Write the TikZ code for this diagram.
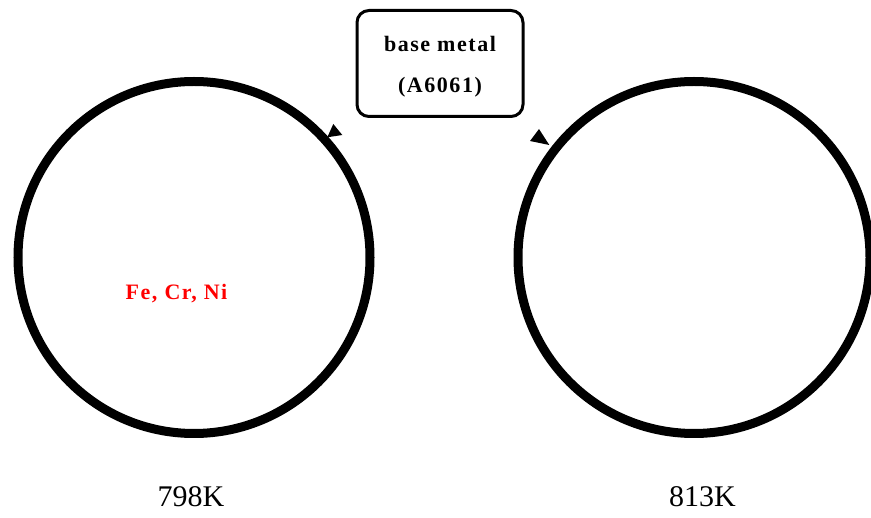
\documentclass[tikz,border=0pt]{standalone}
\usepackage{fontspec}
\setmainfont{Liberation Serif}
\newfontfamily\trackedbold[LetterSpace=7]{Liberation Serif Bold}
\begin{document}
\begin{tikzpicture}[x=1pt,y=-1pt,
  ring/.style={circle,draw,line width=9pt,minimum size=352pt,inner sep=0pt},
  tag/.style={draw,line width=3pt,rounded corners=12pt,minimum width=166pt,minimum height=106pt,inner sep=0pt},
  boldlabel/.style={font=\trackedbold\fontsize{22}{26}\selectfont,inner sep=0pt,anchor=base},
  templabel/.style={font=\fontsize{30}{34}\selectfont,inner sep=0pt,anchor=base},
  marker/.style={fill=black,draw=none}]
  \clip (0,0) rectangle (871,518);
  \useasboundingbox (0,0) rectangle (871,518);

  % sample rings
  \node[ring] (left) at (194,257.5) {};
  \node[ring] (right) at (694,257.5) {};

  % label box
  \node[tag] (box) at (440,63.5) {};
  \node[boldlabel] (boxline1) at (440,51.7) {base metal};
  \node[boldlabel] (boxline2) at (440,92.5) {(A6061)};

  % direction markers next to the rings
  \coordinate (ml1) at (333.3,124);
  \coordinate (ml2) at (342.3,135);
  \coordinate (ml3) at (327.3,137.3);
  \fill[marker] (ml1) -- (ml2) -- (ml3) -- cycle;
  \coordinate (mr1) at (539,129);
  \coordinate (mr2) at (549.3,145);
  \coordinate (mr3) at (530,141);
  \fill[marker] (mr1) -- (mr2) -- (mr3) -- cycle;

  % element label inside the left ring
  \node[boldlabel,text=red] (elements) at (176.5,299.3) {Fe, Cr, Ni};

  % temperatures
  \node[templabel] (t1) at (191,507) {798K};
  \node[templabel] (t2) at (702.5,507) {813K};
\end{tikzpicture}
\end{document}
